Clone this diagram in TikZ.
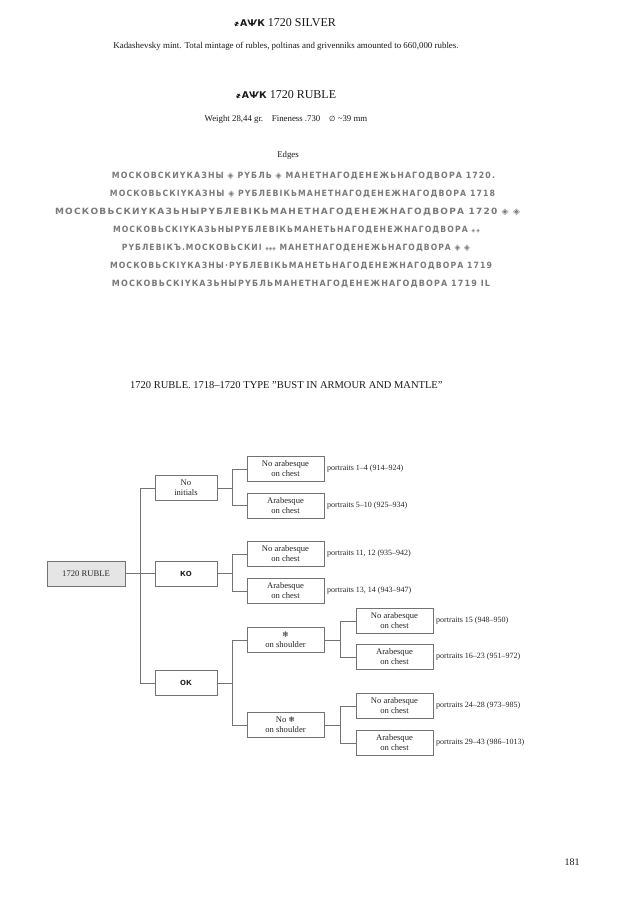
\documentclass[tikz,border=0pt]{standalone}
\usepackage{fontspec}
\setmainfont{Liberation Serif}
\newfontfamily\numfont{DejaVu Sans}
\newfontfamily\symfont{DejaVu Sans}
\newfontfamily\edgefont{DejaVu Sans}[LetterSpace=14]
\newcommand\fsz[2]{\fontsize{#1}{#2}\selectfont}
\newcommand\mintmark{{\numfont\bfseries\fsz{9.3}{10}҂АѰК}}
\newcommand\smalldia{\scalebox{0.6}{◈}}
\newcommand\flake{{\symfont\fsz{8}{8}❄}}
\begin{document}
\begin{tikzpicture}[x=1pt,y=-1pt,
  box/.style={draw=black!55, line width=0.5pt, inner sep=0pt, align=center,
    minimum height=25pt, font=\fsz{8.6}{10}, text=black!85},
  lvA/.style={box, minimum width=62pt},
  lvB/.style={box, minimum width=77pt},
  conn/.style={draw=black!55, line width=0.5pt},
  lbl/.style={anchor=west, inner sep=0pt, font=\fsz{8}{9}, text=black!85},
  hdr/.style={inner sep=0pt, text=black!90},
  edgetxt/.style={inner sep=0pt, anchor=base, text=black!52}]
\useasboundingbox (0,0) rectangle (631,900);
\fill[white] (0,0) rectangle (631,900);

% header
\node[hdr, font=\fsz{12}{14}] (h1) at (285,23) {\mintmark\ 1720 SILVER};
\node[hdr, font=\fsz{8.9}{10}] (h2) at (286,46) {Kadashevsky mint. Total mintage of rubles, poltinas and grivenniks amounted to 660,000 rubles.};
\node[hdr, font=\fsz{12}{14}] (h3) at (286,95) {\mintmark\ 1720 RUBLE};
\node[hdr, font=\fsz{8.8}{10}] (h4) at (286,119) {Weight 28,44 gr.\quad Fineness .730\quad {\symfont\fsz{7.4}{8}∅} \textasciitilde 39 mm};
\node[hdr, font=\fsz{8.8}{10}] (h5) at (288,155) {Edges};

% edge inscriptions
\newcommand\edgeln[5]{\node[edgetxt] (#1) at (#2,#3) {\resizebox{#4pt}{6.4pt}{\edgefont\bfseries #5}};}
\edgeln{e1}{303.5}{178}{383}{МОСКОВСКИҮКАЗНЫ ◈ РҮБЛЬ ◈ МАНЕТНАГОДЕНЕЖЬНАГОДВОРА 1720.}
\edgeln{e2}{302.5}{196}{385}{МОСКОВЬСКІҮКАЗНЫ ◈ РҮБЛЕВІКЬМАНЕТНАГОДЕНЕЖНАГОДВОРА 1718}
\edgeln{e3}{287.5}{214}{465}{МОСКОВЬСКИҮКАЗЬНЫРҮБЛЕВІКЬМАНЕТНАГОДЕНЕЖНАГОДВОРА 1720 ◈ ◈}
\edgeln{e4}{296.5}{232}{367}{МОСКОВЬСКІҮКАЗЬНЫРҮБЛЕВІКЬМАНЕТЬНАГОДЕНЕЖНАГОДВОРА \smalldia\,\smalldia}
\edgeln{e5}{296}{250}{348}{РҮБЛЕВІКЪ.МОСКОВЬСКИІ \smalldia\smalldia\smalldia\ МАНЕТНАГОДЕНЕЖЬНАГОДВОРА ◈ ◈}
\edgeln{e6}{301}{268}{382}{МОСКОВЬСКІҮКАЗНЫ·РҮБЛЕВІКЬМАНЕТЬНАГОДЕНЕЖНАГОДВОРА 1719}
\edgeln{e7}{301}{286}{378}{МОСКОВЬСКІҮКАЗЬНЫРҮБЛЬМАНЕТНАГОДЕНЕЖНАГОДВОРА 1719 IL}

% title
\node[hdr, font=\fsz{10.5}{12}, anchor=west] (title) at (130,385) {1720 RUBLE. 1718--1720 TYPE "BUST IN ARMOUR AND MANTLE"};

% tree
\node[box, minimum width=78pt, fill=black!10] (root) at (86,573.5) {1720 RUBLE};
\node[lvA] (ni) at (186,488) {No\\initials};
\node[lvA, font=\symfont\bfseries\fsz{7}{8}] (ko) at (186,573.5) {КО};
\node[lvA, font=\symfont\bfseries\fsz{7}{8}] (ok) at (186,683) {ОК};

\node[lvB] (ni1) at (285.5,469) {No arabesque\\on chest};
\node[lvB] (ni2) at (285.5,505.5) {Arabesque\\on chest};
\node[lvB] (ko1) at (285.5,554) {No arabesque\\on chest};
\node[lvB] (ko2) at (285.5,591) {Arabesque\\on chest};
\node[lvB] (sh) at (285.5,640) {\flake\\on shoulder};
\node[lvB] (nsh) at (285.5,725) {No \flake\\on shoulder};

\node[lvB] (sh1) at (394.5,621) {No arabesque\\on chest};
\node[lvB] (sh2) at (394.5,657) {Arabesque\\on chest};
\node[lvB] (nsh1) at (394.5,706) {No arabesque\\on chest};
\node[lvB] (nsh2) at (394.5,743) {Arabesque\\on chest};

\node[lbl] (p1) at (327,469) {portraits 1--4 (914--924)};
\node[lbl] (p2) at (327,505.5) {portraits 5--10 (925--934)};
\node[lbl] (p3) at (327,554) {portraits 11, 12 (935--942)};
\node[lbl] (p4) at (327,591) {portraits 13, 14 (943--947)};
\node[lbl] (p5) at (436,621) {portraits 15 (948--950)};
\node[lbl] (p6) at (436,657) {portraits 16--23 (951--972)};
\node[lbl] (p7) at (436,706) {portraits 24--28 (973--985)};
\node[lbl] (p8) at (436,743) {portraits 29--43 (986--1013)};

\draw[conn] (root.east) -- (ko.west);
\draw[conn] (ni.west) -- ++(-15,0) |- (ok.west);
\draw[conn] (ni.east) -- ++(15,0);
\draw[conn] (ni1.west) -- ++(-15,0) |- (ni2.west);
\draw[conn] (ko.east) -- ++(15,0);
\draw[conn] (ko1.west) -- ++(-15,0) |- (ko2.west);
\draw[conn] (ok.east) -- ++(15,0);
\draw[conn] (sh.west) -- ++(-15,0) |- (nsh.west);
\draw[conn] (sh.east) -- ++(16,0);
\draw[conn] (sh1.west) -- ++(-16,0) |- (sh2.west);
\draw[conn] (nsh.east) -- ++(16,0);
\draw[conn] (nsh1.west) -- ++(-16,0) |- (nsh2.west);

% page number
\node[hdr, font=\fsz{10}{12}] (pg) at (572,862) {181};
\end{tikzpicture}
\end{document}
